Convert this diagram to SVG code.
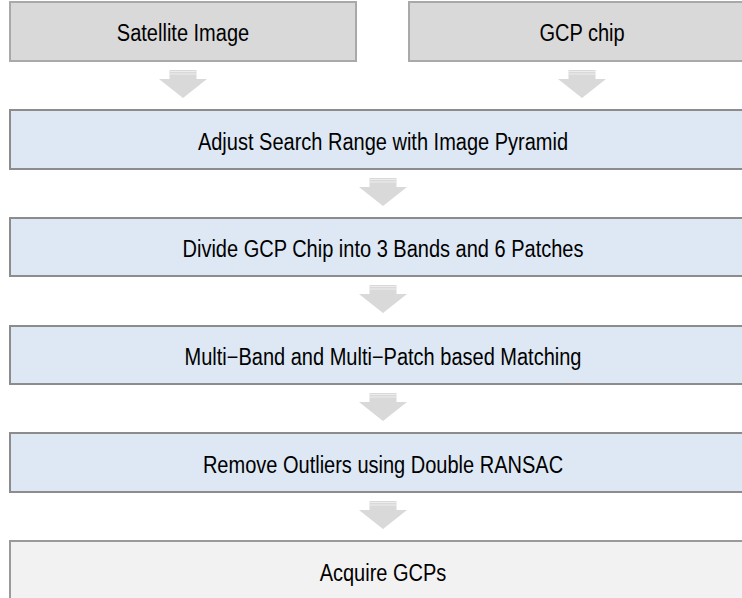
<svg xmlns="http://www.w3.org/2000/svg" width="742" height="598" viewBox="0 0 742 598">
<style>
  .gray rect { fill: #d9d9d9; stroke: #a9a9a9; stroke-width: 2; }
  .blue rect { fill: #dde8f4; stroke: #8c8c8c; stroke-width: 2; }
  .light rect { fill: #f2f2f2; stroke: #9a9a9a; stroke-width: 2; }
  text { font-family: "Liberation Sans", Arial, sans-serif; font-size: 23px; fill: #000; text-anchor: middle; dominant-baseline: central; }
  .arrow { fill: #d9d9d9; }
  .stripe { stroke: #ededed; stroke-width: 1; }
</style>
<defs>
  <g id="arr">
    <path class="arrow" d="M-13.5,0 H13.5 V9 H24 L0,28 L-24,9 H-13.5 Z"/>
    <line class="stripe" x1="-13.5" y1="1.5" x2="13.5" y2="1.5"/>
    <line class="stripe" x1="-13.5" y1="4" x2="13.5" y2="4"/>
  </g>
</defs>
<rect width="742" height="598" fill="#ffffff"/>
<g id="connectors">
  <use href="#arr" x="183" y="70"/>
  <use href="#arr" x="582" y="70"/>
  <use href="#arr" x="383" y="178"/>
  <use href="#arr" x="383" y="285"/>
  <use href="#arr" x="383" y="393"/>
  <use href="#arr" x="383" y="501"/>
</g>
<g id="satellite" class="gray">
  <rect x="10" y="2" width="346" height="59"/>
  <text transform="translate(183,33) scale(0.87,1)">Satellite Image</text>
</g>
<g id="gcpchip" class="gray">
  <rect x="409" y="2" width="347" height="59"/>
  <text transform="translate(582,33) scale(0.87,1)">GCP chip</text>
</g>
<g id="adjust" class="blue">
  <rect x="10" y="110" width="746" height="59"/>
  <text transform="translate(383,142) scale(0.87,1)">Adjust Search Range with Image Pyramid</text>
</g>
<g id="divide" class="blue">
  <rect x="10" y="218" width="746" height="58"/>
  <text transform="translate(383,249) scale(0.87,1)">Divide GCP Chip into 3 Bands and 6 Patches</text>
</g>
<g id="multi" class="blue">
  <rect x="10" y="326" width="746" height="58"/>
  <text transform="translate(383,357) scale(0.87,1)">Multi−Band and Multi−Patch based Matching</text>
</g>
<g id="remove" class="blue">
  <rect x="10" y="433" width="746" height="59"/>
  <text transform="translate(383,465) scale(0.87,1)">Remove Outliers using Double RANSAC</text>
</g>
<g id="acquire" class="light">
  <rect x="10" y="541" width="746" height="70"/>
  <text transform="translate(383,573) scale(0.87,1)">Acquire GCPs</text>
</g>
</svg>
